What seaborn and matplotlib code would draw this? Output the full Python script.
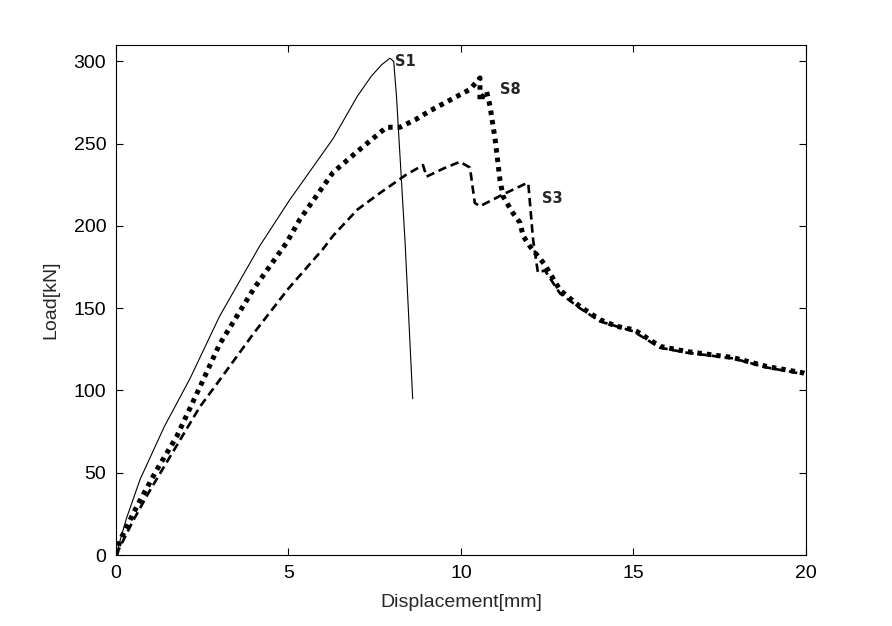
import matplotlib
matplotlib.use("Agg")
import matplotlib.pyplot as plt
import pandas as pd
import seaborn as sns

# values
s1_disp = [0, 0.3, 0.7, 1.4, 2.14, 3.0, 4.17, 5.04, 6.29, 7.0, 7.4, 7.7, 7.94, 8.05, 8.13, 8.38, 8.6]
s1_load = [0, 22, 46, 78, 107, 145, 188, 216, 253, 279, 291, 298, 302, 300, 279, 190, 95]

s3_disp = [0, 0.5, 0.99, 2.43, 3.01, 4.0, 5.0, 6.0, 6.29, 7.0, 7.65, 8.4, 8.9, 9.0, 9.5, 9.97,
           10.26, 10.4, 10.55, 11.2, 11.9, 11.95, 12.09, 12.23, 12.43, 12.87, 13.45,
           14.03, 14.99, 15.77, 16.54, 17.89, 18.86, 19.92]
s3_load = [0, 21, 39.5, 90, 106.5, 135, 162, 186, 194, 210, 220, 231, 237, 230, 235, 239,
           235.5, 214, 212, 219, 226, 226, 191.6, 171.6, 173, 159, 150,
           142, 136, 126, 123, 119.5, 114, 110]

s8_disp = [0, 0.12, 0.6, 1.18, 1.76, 2.53, 3.0, 4.0, 4.95, 5.33, 6.29, 6.98, 7.84, 8.23,
           8.71, 9.1, 10.26, 10.55, 10.55, 10.74, 10.84, 10.99, 11.13, 11.22, 11.5, 11.71,
           11.8, 12.0, 12.43, 12.87, 13.45, 14.03, 14.51, 14.99, 15.09, 15.77, 16.54,
           17.89, 18.86, 19.92, 20.0]
s8_load = [0, 9, 29.4, 51.7, 72, 106.5, 128, 162, 190, 204, 232.5, 245, 260, 260,
           265, 270, 283, 290, 276, 282, 273, 252.6, 228, 218, 208, 202,
           194, 187.6, 176.5, 161, 151, 143, 139, 137, 136, 126.8, 123.7,
           120, 114.6, 110.7, 110]

labels = ["S1", "S8", "S3"]
label_x = [8.38, 11.42, 12.64]
label_y = [300, 283, 217]

df = pd.concat([
    pd.DataFrame({"disp": s1_disp, "load": s1_load, "spec": "S1"}),
    pd.DataFrame({"disp": s3_disp, "load": s3_load, "spec": "S3"}),
    pd.DataFrame({"disp": s8_disp, "load": s8_load, "spec": "S8"}),
])

sns.set_style("ticks")
plt.rcParams["font.family"] = ["Liberation Sans", "DejaVu Sans"]

fig = plt.figure(figsize=(8.92, 6.26), dpi=100)
ax = fig.add_axes([0.130, 0.1134, 0.7736, 0.8147])

styles = {
    "S1": dict(lw=0.8, ls="-"),
    "S3": dict(lw=1.9, ls=(0, (3.2, 1.8))),
    "S8": dict(lw=3.6, ls=(0, (0.9, 1.0))),
}
for spec in ["S1", "S3", "S8"]:
    sub = df[df["spec"] == spec]
    sns.lineplot(data=sub, x="disp", y="load", sort=False, estimator=None,
                 color="black", ax=ax, **styles[spec])

for lab, lx, ly in zip(labels, label_x, label_y):
    ax.text(lx, ly, lab, fontsize=10.5, fontweight="bold", ha="center", va="center",
            family=["DejaVu Sans"])

ax.set_xlim(0, 20)
ax.set_ylim(0, 310)
ax.set_xticks([0, 5, 10, 15, 20])
ax.set_yticks([0, 50, 100, 150, 200, 250, 300])
ax.tick_params(direction="in", top=True, right=True, length=5, width=0.8,
               labelsize=14, colors="black", pad=7)
for sp in ax.spines.values():
    sp.set_visible(True)
    sp.set_linewidth(0.8)
    sp.set_color("black")
ax.set_xlabel("Displacement[mm]", fontsize=14, labelpad=9)
ax.set_ylabel("Load[kN]", fontsize=14, labelpad=10)

fig.savefig("out.png", dpi=100)
